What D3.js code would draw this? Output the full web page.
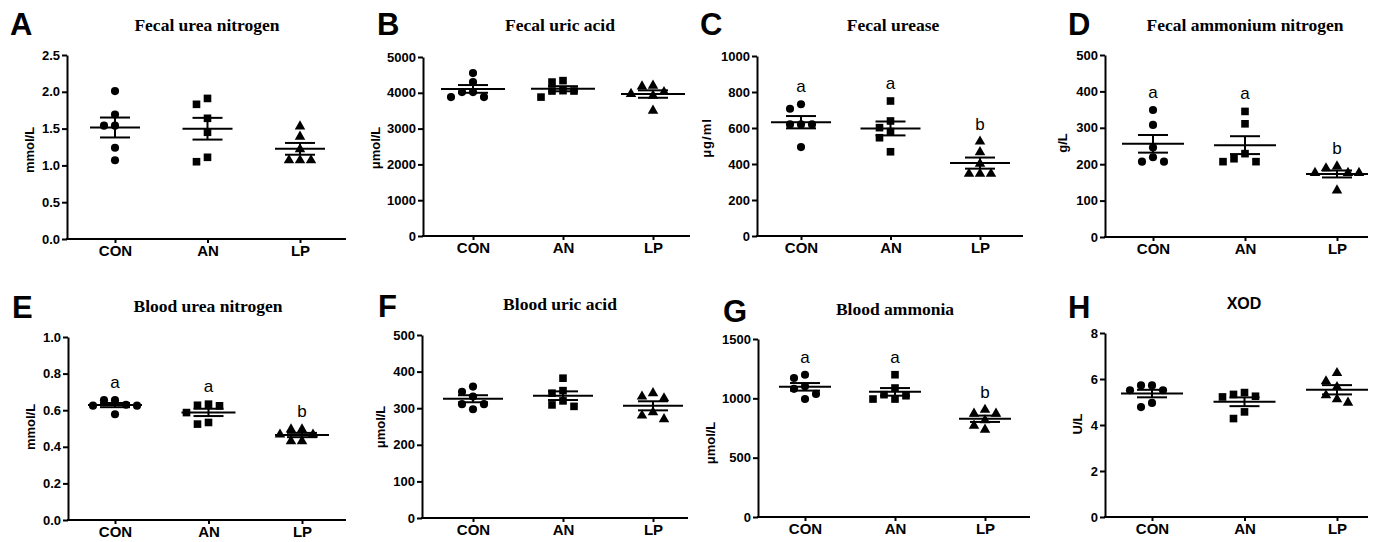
<!DOCTYPE html>
<html>
<head>
<meta charset="utf-8">
<script src="https://cdn.jsdelivr.net/npm/d3@7"></script>
<style>
body { margin: 0; background: #fff; }
text { fill: #000; }
</style>
</head>
<body>
<script>
// categories and panel texts
var groups = ['CON', 'AN', 'LP'];
var panelTags = ['A', 'B', 'C', 'D', 'E', 'F', 'G', 'H'];
var titles = ['Fecal urea nitrogen', 'Fecal uric acid', 'Fecal urease', 'Fecal ammonium nitrogen',
  'Blood urea nitrogen', 'Blood uric acid', 'Blood ammonia', 'XOD'];
var units = ['mmol/L', 'μmol/L', 'μg/ml', 'g/L', 'mmol/L', 'μmol/L', 'μmol/L', 'U/L'];
var yTicks = [
  [0, 0.5, 1, 1.5, 2, 2.5],
  [0, 1000, 2000, 3000, 4000, 5000],
  [0, 200, 400, 600, 800, 1000],
  [0, 100, 200, 300, 400, 500],
  [0, 0.2, 0.4, 0.6, 0.8, 1],
  [0, 100, 200, 300, 400, 500],
  [0, 500, 1000, 1500],
  [0, 2, 4, 6, 8]
];
var tickFormats = ['.1f', 'd', 'd', 'd', '.1f', 'd', 'd', 'd'];

// individual values, one array per group (CON, AN, LP)
var fecalUreaN = [[2.01, 1.69, 1.54, 1.54, 1.24, 1.07], [1.91, 1.83, 1.64, 1.45, 1.11, 1.05], [1.53, 1.39, 1.22, 1.07, 1.07, 1.07]];
var fecalUricAcid = [[4550, 4300, 4020, 4020, 3880, 3880], [4340, 4300, 4060, 4050, 4050, 3880], [4200, 4180, 4020, 3970, 3920, 3500]];
var fecalUrease = [[732, 707, 620, 620, 620, 494], [750, 639, 602, 580, 546, 468], [525, 466, 401, 346, 346, 346]];
var fecalAmmoniumN = [[349, 308, 246, 219, 207, 207], [345, 311, 229, 215, 207, 207], [194, 189, 176, 176, 176, 128]];
var bloodUreaN = [[0.655, 0.655, 0.63, 0.625, 0.625, 0.578], [0.633, 0.627, 0.624, 0.587, 0.533, 0.524], [0.495, 0.495, 0.467, 0.467, 0.431, 0.431]];
var bloodUricAcid = [[359, 345, 332, 311, 311, 297], [382, 348, 341, 320, 309, 305], [341, 332, 327, 289, 280, 270]];
var bloodAmmonia = [[1199, 1171, 1101, 1080, 1037, 994], [1199, 1087, 1031, 1022, 994, 994], [904, 871, 871, 815, 770, 736]];
var xod = [[5.72, 5.72, 5.51, 5.51, 4.96, 4.78], [5.41, 5.33, 5.25, 5.22, 4.57, 4.28], [6.26, 5.9, 5.65, 5.29, 5.12, 4.97]];
var panelValues = [fecalUreaN, fecalUricAcid, fecalUrease, fecalAmmoniumN, bloodUreaN, bloodUricAcid, bloodAmmonia, xod];

// significance letters
var sigLetters = [null, null, ['a', 'a', 'b'], ['a', 'a', 'b'], ['a', 'a', 'b'], null, ['a', 'a', 'b'], null];

// layout of each panel in the 1389x542 page
var layout = [
  {x0: 67, x1: 346, c0: 115, c1: 300, top: 55, bot: 239, tagX: 10, tagY: 35, titleX: 207, titleY: 31, labX: 29, labY: 150, half: 25},
  {x0: 423, x1: 690, c0: 473, c1: 653, top: 57, bot: 236, tagX: 377, tagY: 35, titleX: 560, titleY: 31, labX: 375, labY: 148, half: 32},
  {x0: 757, x1: 1023, c0: 801, c1: 980, top: 56, bot: 236, tagX: 700, tagY: 35, titleX: 893, titleY: 31, labX: 706, labY: 138, half: 30},
  {x0: 1105, x1: 1368, c0: 1153, c1: 1337, top: 55, bot: 237, tagX: 1068, tagY: 35, titleX: 1245, titleY: 31, labX: 1062, labY: 143, half: 31},
  {x0: 68, x1: 346, c0: 115, c1: 302, top: 337, bot: 520, tagX: 12, tagY: 318, titleX: 208, titleY: 312, labX: 30, labY: 427, half: 27},
  {x0: 422, x1: 688, c0: 473, c1: 653, top: 335, bot: 518, tagX: 378, tagY: 317, titleX: 560, titleY: 310, labX: 380, labY: 427, half: 30},
  {x0: 758, x1: 1030, c0: 805, c1: 985, top: 339, bot: 517, tagX: 723, tagY: 322, titleX: 895, titleY: 315, labX: 710, labY: 443, half: 26},
  {x0: 1105, x1: 1368, c0: 1152, c1: 1337, top: 333, bot: 517, tagX: 1068, tagY: 318, titleX: 1244, titleY: 309, labX: 1077, labY: 424, half: 31}
];

var sans = 'Liberation Sans, Arial, sans-serif';
var serif = 'Liberation Serif, Times New Roman, serif';
var shapes = [d3.symbolCircle, d3.symbolSquare, d3.symbolTriangle];
var shapeSizes = [52, 58, 48];

var svg = d3.select('body').append('svg').attr('width', 1389).attr('height', 542);

// place points of one group side by side where they would overlap
function swarm(vals, y, cx) {
  var order = vals.map(function(v, i) { return i; }).sort(function(a, b) { return vals[b] - vals[a]; });
  var placed = [];
  order.forEach(function(i) {
    var py = y(vals[i]);
    for (var k = 0; k < 20; k++) {
      var off = k === 0 ? 0 : (k % 2 ? -1 : 1) * Math.ceil(k / 2) * 11;
      var ok = placed.every(function(p) { return Math.hypot(p.x - (cx + off), p.y - py) >= 8.5; });
      if (ok) { placed.push({x: cx + off, y: py}); break; }
    }
  });
  return placed;
}

panelValues.forEach(function(data, p) {
  var L = layout[p];
  var ticks = yTicks[p];
  var g = svg.append('g');
  var x = d3.scalePoint().domain(groups).range([L.c0, L.c1]);
  var y = d3.scaleLinear().domain([0, ticks[ticks.length - 1]]).range([L.bot, L.top]);

  g.append('text').attr('x', L.tagX).attr('y', L.tagY).text(panelTags[p])
    .style('font', 'bold 31px ' + sans);
  g.append('text').attr('x', L.titleX).attr('y', L.titleY).attr('text-anchor', 'middle').text(titles[p])
    .style('font', p === 7 ? 'bold 16px ' + sans : 'bold 17.5px ' + serif);
  g.append('text').attr('transform', 'translate(' + L.labX + ',' + L.labY + ') rotate(-90)')
    .attr('text-anchor', 'middle').attr('dy', '0.35em').text(units[p])
    .style('font', 'bold 13px ' + sans).style('letter-spacing', p === 2 ? '1px' : null);

  var ya = g.append('g').attr('transform', 'translate(' + L.x0 + ',0)')
    .call(d3.axisLeft(y).tickValues(ticks).tickFormat(d3.format(tickFormats[p])).tickSize(5).tickSizeOuter(0).tickPadding(2));
  var xa = g.append('g').attr('transform', 'translate(0,' + L.bot + ')')
    .call(d3.axisBottom(x).tickSize(4).tickSizeOuter(0).tickPadding(2));
  xa.select('.domain').remove();
  g.append('line').attr('x1', L.x0 - 1).attr('x2', L.x1).attr('y1', L.bot).attr('y2', L.bot)
    .attr('stroke', '#000').attr('stroke-width', 2);
  [ya, xa].forEach(function(a) {
    a.selectAll('path, line').attr('stroke', '#000').attr('stroke-width', 2);
  });
  ya.selectAll('text').style('font', 'bold 13px ' + sans).attr('fill', '#000');
  xa.selectAll('text').style('font', 'bold 15px ' + sans).attr('fill', '#000');

  data.forEach(function(vals, gi) {
    var cx = x(groups[gi]);
    var pts = swarm(vals, y, cx);
    g.selectAll(null).data(pts).enter().append('path')
      .attr('transform', function(d) { return 'translate(' + d.x + ',' + d.y + ')'; })
      .attr('d', d3.symbol().type(shapes[gi]).size(shapeSizes[gi]))
      .attr('fill', '#000');

    var m = d3.mean(vals);
    var sem = d3.deviation(vals) / Math.sqrt(vals.length);
    var lines = [
      [cx - L.half, y(m), cx + L.half, y(m)],
      [cx - 15, y(m + sem), cx + 15, y(m + sem)],
      [cx - 15, y(m - sem), cx + 15, y(m - sem)],
      [cx, y(m + sem), cx, y(m - sem)]
    ];
    g.selectAll(null).data(lines).enter().append('line')
      .attr('x1', function(d) { return d[0]; }).attr('y1', function(d) { return d[1]; })
      .attr('x2', function(d) { return d[2]; }).attr('y2', function(d) { return d[3]; })
      .attr('stroke', '#000').attr('stroke-width', 2);

    if (sigLetters[p]) {
      g.append('text').attr('x', cx).attr('y', y(d3.max(vals)) - 12).attr('text-anchor', 'middle')
        .text(sigLetters[p][gi]).style('font', '17px ' + sans);
    }
  });
});
</script>
</body>
</html>
